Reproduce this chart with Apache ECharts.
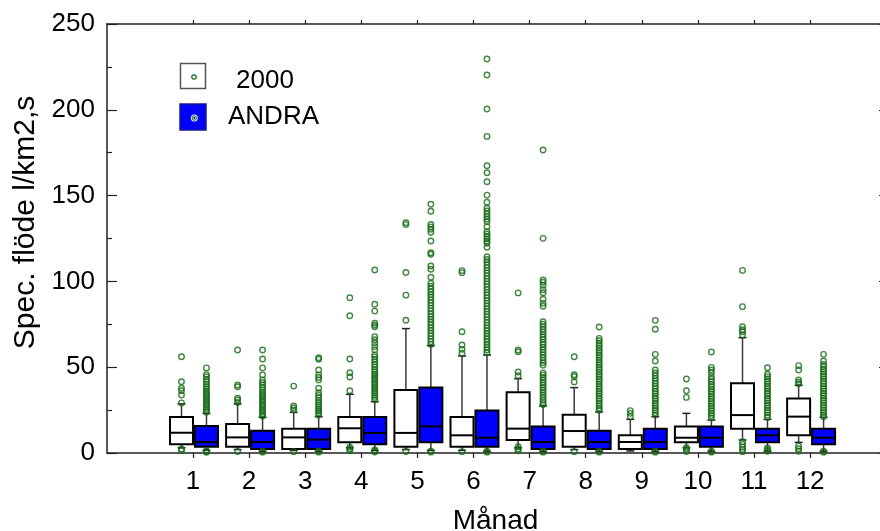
<!DOCTYPE html>
<html>
<head>
<meta charset="utf-8">
<script src="https://cdn.jsdelivr.net/npm/echarts@6/dist/echarts.min.js"></script>
<style>
  html, body { margin: 0; padding: 0; background: #fff; }
  #chart { width: 880px; height: 531px; }
</style>
</head>
<body>
<div id="chart"></div>
<script>
// Months on the x axis
const months = [1, 2, 3, 4, 5, 6, 7, 8, 9, 10, 11, 12];
const yTicks = [0, 50, 100, 150, 200, 250];

// Box statistics per month: [lower whisker, Q1, median, Q3, upper whisker]
const box2000 = [
  [3.0, 5.1, 11.8, 21.0, 28.6],
  [2.0, 3.7, 9.1, 16.9, 28.6],
  [1.5, 2.3, 9.1, 14.2, 23.7],
  [3.0, 6.2, 14.4, 21.0, 34.2],
  [2.0, 3.7, 11.7, 36.7, 72.5],
  [1.5, 3.7, 10.3, 21.0, 56.5],
  [3.0, 7.6, 14.2, 35.4, 43.3],
  [2.0, 3.7, 12.8, 22.3, 38.1],
  [1.2, 2.3, 6.4, 10.3, 19.6],
  [3.0, 6.2, 8.9, 15.5, 23.1],
  [7.6, 14.2, 22.1, 40.6, 67.2],
  [6.2, 10.3, 21.2, 31.7, 39.5]
];
const boxAndra = [
  [1.5, 3.7, 6.4, 15.7, 23.1],
  [1.0, 2.3, 6.4, 13.0, 20.8],
  [1.0, 2.3, 7.8, 14.2, 21.2],
  [1.5, 5.1, 11.7, 21.0, 29.9],
  [1.5, 6.2, 15.5, 38.1, 62.6],
  [1.0, 3.7, 8.9, 24.7, 57.1],
  [1.0, 2.3, 6.4, 15.5, 27.4],
  [1.0, 2.3, 6.4, 13.0, 23.9],
  [1.0, 2.3, 6.4, 14.2, 21.2],
  [1.0, 3.7, 8.9, 15.5, 19.2],
  [1.0, 6.2, 10.3, 14.2, 19.6],
  [1.0, 5.1, 8.9, 14.2, 20.8]
];

// Outlying observations per month
const out2000 = [
  [56.1, 41.5, 37.7, 36.3, 33.8, 29.2, 2.4, 1.4],
  [60.0, 39.6, 38.6, 31.9, 30.9, 29.4, 0.9],
  [39.0, 27.4, 26.2, 25.0, 0.8],
  [90.5, 80.0, 54.8, 46.8, 44.3, 36.3, 3.4, 2.3, 1.3],
  [134.2, 133.1, 105.2, 92.0, 77.4, 0.9],
  [106.3, 105.1, 70.7, 62.9, 60.4, 58.1, 0.8],
  [93.3, 60.0, 59.0, 47.2, 45.0, 3.6, 2.4, 1.3],
  [56.1, 45.6, 44.6, 41.4, 0.8],
  [24.7, 23.1, 21.2],
  [43.1, 36.3, 32.4, 3.1, 2.0, 0.9],
  [106.4, 85.3, 73.6, 71.8, 70.7, 68.8, 6.6, 5.0, 3.4, 2.1, 0.8],
  [50.9, 48.4, 42.5, 41.2, 40.3, 4.1, 2.5, 1.0]
];
const outAndra = [
  [49.6, 45.7, 44.4, 43.0, 41.6, 40.1, 38.6, 37.4, 36.0, 34.9, 33.8, 32.6, 31.5, 30.3, 29.2, 28.1, 27.0, 25.9, 24.8, 23.8, 1.3, 0.8, 0.4],
  [60.0, 54.8, 49.6, 45.5, 42.6, 41.1, 39.6, 38.2, 36.8, 35.4, 34.1, 32.9, 31.8, 30.6, 29.5, 28.3, 27.2, 26.0, 24.9, 23.8, 22.7, 21.6, 1.0, 0.5],
  [55.5, 54.6, 48.4, 45.5, 44.0, 42.6, 37.7, 35.1, 33.6, 32.2, 30.8, 29.5, 28.2, 27.0, 25.7, 24.5, 23.3, 22.1, 1.0, 0.5],
  [106.6, 86.7, 82.7, 75.6, 74.5, 73.6, 67.8, 66.0, 64.1, 62.0, 60.1, 57.2, 56.0, 54.6, 53.1, 51.6, 50.2, 48.7, 47.4, 46.1, 44.9, 43.6, 42.4, 41.1, 39.9, 38.6, 37.4, 36.1, 34.9, 33.6, 32.4, 31.0, 1.8, 1.2, 0.6],
  [145.0, 140.9, 133.2, 131.8, 130.4, 128.6, 123.5, 116.7, 115.8, 109.0, 107.1, 102.4, 98.9, 97.2, 95.6, 94.0, 92.4, 90.8, 89.1, 87.5, 85.9, 84.3, 82.7, 81.0, 79.4, 77.8, 76.2, 74.6, 73.0, 71.4, 69.7, 68.1, 66.5, 64.9, 63.3, 1.1, 0.5],
  [229.6, 220.3, 200.5, 184.5, 167.4, 163.3, 158.1, 150.3, 146.1, 142.6, 141.0, 139.4, 137.8, 136.2, 134.8, 131.9, 129.0, 127.6, 126.2, 124.8, 123.5, 122.2, 119.9, 114.4, 112.8, 111.2, 109.6, 108.0, 106.4, 104.8, 103.2, 101.6, 100.0, 98.4, 96.8, 95.2, 93.6, 92.0, 90.4, 88.8, 87.2, 85.6, 84.0, 82.4, 80.8, 79.2, 77.6, 76.0, 74.4, 72.8, 71.2, 69.6, 68.0, 66.4, 64.8, 63.2, 61.6, 60.0, 58.4, 1.0, 0.5],
  [176.6, 125.1, 100.8, 99.5, 97.8, 95.2, 93.4, 89.6, 87.2, 85.5, 76.5, 75.0, 73.5, 72.1, 70.6, 69.1, 67.6, 66.1, 64.6, 63.2, 61.7, 60.2, 58.7, 57.2, 55.5, 54.0, 52.6, 51.2, 46.6, 45.4, 44.0, 42.6, 41.1, 39.6, 38.2, 36.7, 35.3, 33.8, 32.4, 30.9, 29.5, 28.2, 1.0, 0.5],
  [73.4, 66.8, 65.4, 64.0, 62.6, 61.2, 59.8, 58.4, 57.0, 55.6, 54.2, 52.8, 51.4, 50.0, 48.6, 47.2, 45.8, 44.4, 43.0, 41.6, 40.2, 38.8, 37.4, 36.0, 34.6, 33.2, 31.8, 30.4, 29.0, 27.6, 26.2, 24.9, 1.0, 0.5],
  [77.3, 72.1, 57.5, 53.6, 48.4, 46.6, 45.0, 43.5, 42.0, 40.5, 39.0, 37.5, 36.0, 34.6, 33.2, 31.8, 30.4, 29.0, 27.6, 26.2, 24.8, 23.4, 22.1, 1.0, 0.5],
  [58.9, 49.9, 48.4, 46.8, 44.5, 43.0, 41.5, 40.0, 38.6, 37.2, 35.8, 34.4, 33.0, 31.6, 30.2, 28.8, 27.4, 26.0, 24.6, 23.2, 21.8, 20.4, 1.0, 0.5],
  [49.7, 45.9, 44.5, 43.1, 41.7, 40.3, 38.9, 37.5, 36.1, 34.7, 33.3, 31.9, 30.5, 29.1, 27.7, 26.3, 24.9, 23.5, 22.1, 20.7, 3.0, 2.0, 1.0],
  [57.5, 53.6, 51.6, 50.2, 48.8, 47.4, 46.0, 44.6, 43.2, 41.8, 40.4, 39.0, 37.6, 36.2, 34.8, 33.4, 32.0, 30.6, 29.2, 27.8, 26.4, 25.0, 23.6, 22.2, 21.1, 1.0, 0.5]
];

const seriesNames = ['2000', 'ANDRA'];

// Horizontal placement of the two boxes around each month tick (in month units)
const BOX_W = 0.41;
const OFF_2000 = -0.205;
const OFF_ANDRA = 0.24;

const GREEN = '#146a14';
const FONT = '"Liberation Sans", Arial, Helvetica, sans-serif';

function boxData(stats) {
  return months.map((m, i) => [m].concat(stats[i]));
}
function outlierData(lists, offset) {
  const pts = [];
  lists.forEach((vals, i) => vals.forEach(v => pts.push([months[i] + offset, v])));
  return pts;
}

function boxRenderer(offset, fill) {
  return function (params, api) {
    const cx = api.value(0) + offset;
    const pLo = api.coord([cx, api.value(1)]);
    const pQ1 = api.coord([cx, api.value(2)]);
    const pMed = api.coord([cx, api.value(3)]);
    const pQ3 = api.coord([cx, api.value(4)]);
    const pHi = api.coord([cx, api.value(5)]);
    const half = api.size([BOX_W, 0])[0] / 2;
    const capHalf = 4;
    const x = pQ3[0];
    const whisker = { stroke: '#3a3a3a', lineWidth: 1.5 };
    const capStyle = { stroke: '#222', lineWidth: 1.5 };
    return {
      type: 'group',
      children: [
        { type: 'line', shape: { x1: x, y1: pHi[1], x2: x, y2: pQ3[1] }, style: whisker },
        { type: 'line', shape: { x1: x, y1: pQ1[1], x2: x, y2: pLo[1] }, style: whisker },
        { type: 'line', shape: { x1: x - capHalf, y1: pHi[1], x2: x + capHalf, y2: pHi[1] }, style: capStyle },
        { type: 'line', shape: { x1: x - capHalf, y1: pLo[1], x2: x + capHalf, y2: pLo[1] }, style: capStyle },
        {
          type: 'rect',
          shape: { x: x - half, y: pQ3[1], width: half * 2, height: pQ1[1] - pQ3[1] },
          style: { fill: fill, stroke: '#000', lineWidth: 2 }
        },
        { type: 'line', shape: { x1: x - half, y1: pMed[1], x2: x + half, y2: pMed[1] }, style: { stroke: '#000', lineWidth: 2 } }
      ]
    };
  };
}

const chart = echarts.init(document.getElementById('chart'), null, { renderer: 'canvas' });

const xMin = -0.533;
const xMax = 13.317;

chart.setOption({
  animation: false,
  backgroundColor: '#fff',
  grid: { left: 107, top: 24, width: 777, height: 429, containLabel: false, outerBoundsMode: 'none' },
  xAxis: [
    {
      type: 'value', position: 'bottom', min: xMin, max: xMax,
      name: 'Månad', nameLocation: 'middle', nameGap: 54,
      nameTextStyle: { fontFamily: FONT, fontSize: 28, color: '#000' },
      axisLine: { show: true, onZero: false, lineStyle: { color: '#222', width: 1.5 } },
      axisTick: { show: true, customValues: months, length: 5, inside: false, lineStyle: { color: '#222', width: 1.2 } },
      axisLabel: { show: true, customValues: months, margin: 16, fontFamily: FONT, fontSize: 26, color: '#000' },
      splitLine: { show: false }
    },
    {
      type: 'value', position: 'top', min: xMin, max: xMax,
      axisLine: { show: true, onZero: false, lineStyle: { color: '#222', width: 1.5 } },
      axisTick: { show: true, customValues: months, length: 4, inside: false, lineStyle: { color: '#222', width: 1.2 } },
      axisLabel: { show: false },
      splitLine: { show: false }
    }
  ],
  yAxis: [
    {
      type: 'value', position: 'left', min: 0, max: 250, interval: 50,
      name: 'Spec. flöde l/km2,s', nameLocation: 'middle', nameGap: 66, nameRotate: 90,
      nameTextStyle: { fontFamily: FONT, fontSize: 30, color: '#000', padding: [0, 0, 0, 32] },
      axisLine: { show: true, onZero: false, lineStyle: { color: '#222', width: 1.5 } },
      axisTick: { show: true, inside: true, length: 10, lineStyle: { color: '#222', width: 1.2 } },
      minorTick: { show: true, splitNumber: 2, length: 5, lineStyle: { color: '#222', width: 1.2 } },
      axisLabel: { show: true, margin: 12, fontFamily: FONT, fontSize: 26, color: '#000' },
      splitLine: { show: false }
    },
    {
      type: 'value', position: 'right', min: 0, max: 250, interval: 50,
      axisLine: { show: true, onZero: false, lineStyle: { color: '#222', width: 1.5 } },
      axisTick: { show: true, inside: true, length: 5, lineStyle: { color: '#222', width: 1.2 } },
      axisLabel: { show: false },
      splitLine: { show: false }
    }
  ],
  series: [
    {
      name: seriesNames[0], type: 'custom', xAxisIndex: 0, yAxisIndex: 0,
      renderItem: boxRenderer(OFF_2000, '#ffffff'),
      encode: { x: 0, y: [1, 2, 3, 4, 5] },
      data: boxData(box2000), z: 2
    },
    {
      name: seriesNames[1], type: 'custom', xAxisIndex: 0, yAxisIndex: 0,
      renderItem: boxRenderer(OFF_ANDRA, '#0000ff'),
      encode: { x: 0, y: [1, 2, 3, 4, 5] },
      data: boxData(boxAndra), z: 2
    },
    {
      name: seriesNames[0] + ' outliers', type: 'scatter', xAxisIndex: 0, yAxisIndex: 0,
      symbol: 'circle', symbolSize: 5.5,
      itemStyle: { color: 'rgba(255,255,255,0)', borderColor: GREEN, borderWidth: 1.4 },
      data: outlierData(out2000, OFF_2000), z: 3
    },
    {
      name: seriesNames[1] + ' outliers', type: 'scatter', xAxisIndex: 0, yAxisIndex: 0,
      symbol: 'circle', symbolSize: 5.5,
      itemStyle: { color: 'rgba(255,255,255,0)', borderColor: GREEN, borderWidth: 1.4 },
      data: outlierData(outAndra, OFF_ANDRA), z: 3
    }
  ],
  graphic: [
    { type: 'rect', shape: { x: 180.5, y: 63.5, width: 25, height: 25 }, style: { fill: '#fff', stroke: '#555', lineWidth: 1.5 } },
    { type: 'circle', shape: { cx: 194, cy: 77, r: 2.2 }, style: { fill: 'transparent', stroke: GREEN, lineWidth: 1.2 } },
    { type: 'text', x: 236, y: 81, style: { text: seriesNames[0], font: '26px ' + FONT, fill: '#000', textVerticalAlign: 'middle', verticalAlign: 'middle' } },
    { type: 'rect', shape: { x: 180, y: 104, width: 26, height: 26 }, style: { fill: '#0000ff', stroke: '#1a1a90', lineWidth: 1.5 } },
    { type: 'circle', shape: { cx: 194.3, cy: 118, r: 2.2 }, style: { fill: 'transparent', stroke: '#e8f4e8', lineWidth: 2.6 } },
    { type: 'circle', shape: { cx: 194.3, cy: 118, r: 2.2 }, style: { fill: 'transparent', stroke: GREEN, lineWidth: 1 } },
    { type: 'text', x: 228, y: 117, style: { text: seriesNames[1], font: '26px ' + FONT, fill: '#000', textVerticalAlign: 'middle', verticalAlign: 'middle' } }
  ]
});
</script>
</body>
</html>
